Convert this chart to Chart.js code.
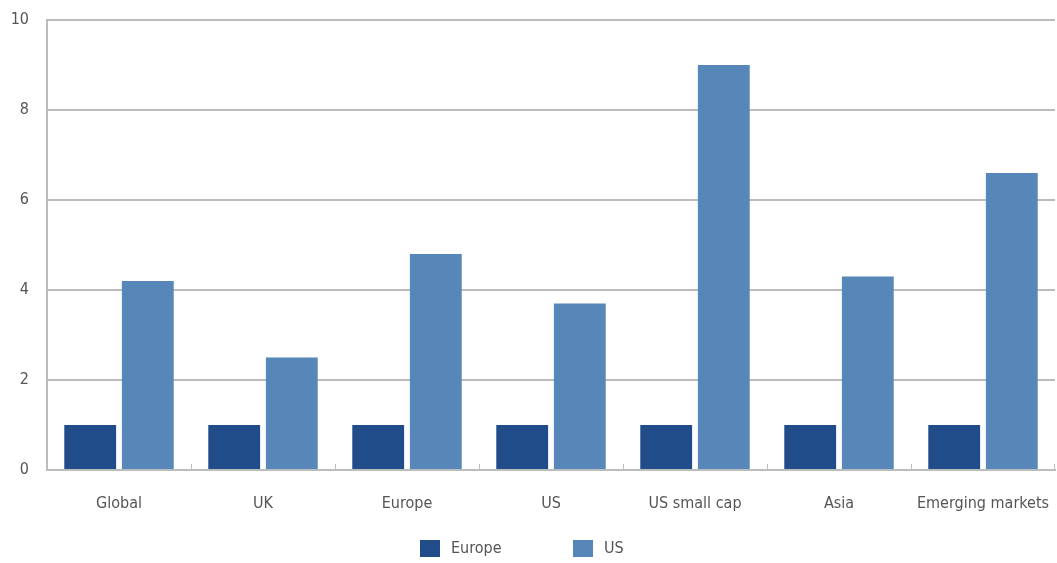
<!DOCTYPE html>
<html>
<head>
<meta charset="utf-8">
<script src="https://cdn.jsdelivr.net/npm/chart.js@4.4.1/dist/chart.umd.min.js"></script>
<style>
  html, body { margin: 0; padding: 0; background: #ffffff; }
  #wrap { width: 1057px; height: 563px; }
</style>
</head>
<body>
<div id="wrap"><canvas id="c" width="1057" height="563"></canvas></div>
<script>
const categories = ["Global", "UK", "Europe", "US", "US small cap", "Asia", "Emerging markets"];
const europeValues = [1, 1, 1, 1, 1, 1, 1];
const usValues = [4.2, 2.5, 4.8, 3.7, 9.0, 4.3, 6.6];
const seriesNames = ["Europe", "US"];
const seriesColors = ["#214c8a", "#5786b8"];
const yTicks = [0, 2, 4, 6, 8, 10];

const FONT = "'Liberation Sans Narrow', 'DejaVu Sans Condensed', 'Roboto Condensed', sans-serif";
const TEXT = "#555555";
const GRID = "#bcbcbc";

const legendPlugin = {
  id: 'customLegend',
  afterDraw(chart) {
    const ctx = chart.ctx;
    ctx.save();
    ctx.font = "16px " + FONT;
    ctx.textBaseline = "middle";
    ctx.textAlign = "left";
    const starts = [420, 573];
    chart.data.datasets.forEach((ds, i) => {
      const x = starts[i];
      const y = 548;
      ctx.fillStyle = ds.backgroundColor;
      ctx.fillRect(x, y - 8, 20, 17);
      ctx.fillStyle = TEXT;
      ctx.fillText(ds.label, x + 31, y + 1);
    });
    ctx.restore();
  }
};

const boundaryTicks = {
  id: 'boundaryTicks',
  afterDatasetsDraw(chart) {
    const ctx = chart.ctx;
    const xs = chart.scales.x;
    const bottom = chart.chartArea.bottom;
    ctx.save();
    ctx.strokeStyle = GRID;
    ctx.lineWidth = 1;
    for (let i = 1; i <= categories.length; i++) {
      let x;
      if (i === categories.length) x = chart.chartArea.right - 1;
      else x = (xs.getPixelForValue(i - 1) + xs.getPixelForValue(i)) / 2;
      ctx.beginPath();
      ctx.moveTo(Math.round(x) + 0.5, bottom);
      ctx.lineTo(Math.round(x) + 0.5, bottom - 6);
      ctx.stroke();
    }
    ctx.restore();
  }
};

new Chart(document.getElementById('c'), {
  type: 'bar',
  data: {
    labels: categories,
    datasets: [
      { label: seriesNames[0], data: europeValues, backgroundColor: seriesColors[0] },
      { label: seriesNames[1], data: usValues, backgroundColor: seriesColors[1] }
    ]
  },
  options: {
    responsive: false,
    animation: false,
    devicePixelRatio: 1,
    layout: { padding: { top: 20, right: 2, left: 0, bottom: 43 } },
    datasets: { bar: { categoryPercentage: 0.8, barPercentage: 0.9 } },
    plugins: {
      legend: { display: false },
      tooltip: { enabled: false }
    },
    scales: {
      x: {
        grid: { display: false, drawTicks: false },
        border: { display: true, color: GRID, width: 2 },
        ticks: { color: TEXT, font: { family: FONT, size: 16 }, padding: 24, maxRotation: 0, autoSkip: false },
        afterFit(s) { s.height = 50; s.paddingLeft = 0; s.paddingRight = 0; }
      },
      y: {
        min: 0, max: 10,
        afterBuildTicks(s) { s.ticks = yTicks.map(v => ({ value: v })); },
        grid: { color: GRID, lineWidth: 2, drawTicks: false },
        border: { display: true, color: GRID, width: 2 },
        ticks: { color: TEXT, font: { family: FONT, size: 16 }, padding: 18 },
        afterFit(s) { s.width = 47; s.paddingTop = 0; s.paddingBottom = 0; }
      }
    }
  },
  plugins: [legendPlugin, boundaryTicks]
});
</script>
</body>
</html>
